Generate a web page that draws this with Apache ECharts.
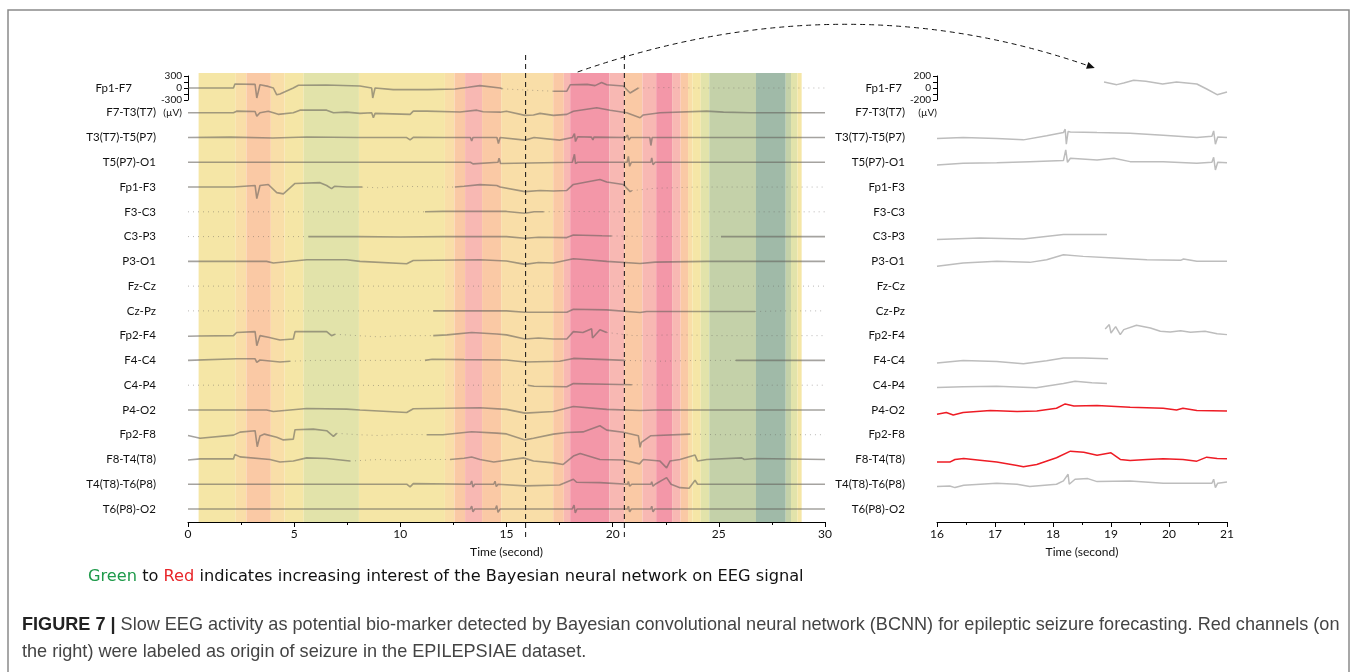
<!DOCTYPE html>
<html>
<head>
<meta charset="utf-8">
<script src="https://cdn.jsdelivr.net/npm/echarts@6/dist/echarts.min.js"></script>
<style>
  html, body { margin: 0; padding: 0; background: #fff; }
  #chart { width: 1357px; height: 672px; }
</style>
</head>
<body>
<div id="chart"></div>
<script>
// channel montage, top to bottom
const channelNames = [
  "Fp1-F7", "F7-T3(T7)", "T3(T7)-T5(P7)", "T5(P7)-O1", "Fp1-F3", "F3-C3",
  "C3-P3", "P3-O1", "Fz-Cz", "Cz-Pz", "Fp2-F4", "F4-C4", "C4-P4", "P4-O2",
  "Fp2-F8", "F8-T4(T8)", "T4(T8)-T6(P8)", "T6(P8)-O2"
];

// BCNN interest windows (seconds) and interest level 0 (green) .. 7 (red)
const bandEdges = [0.5, 2.25, 2.75, 3.9, 4.55, 5.45, 8.05, 12.1, 12.55, 13.05, 13.85, 14.75, 17.2, 17.7,
  18.0, 19.85, 20.55, 21.4, 22.05, 22.8, 23.2, 23.55, 23.75, 24.15, 24.55, 26.75, 28.15, 28.4, 28.7, 28.9];
const bandLevel = [3, 4, 5, 4, 3, 2, 3, 4, 5, 6, 5, 4, 5, 6, 7, 6, 5, 6, 7, 6, 5, 4, 3, 2, 1, 0, 1, 2, 3];
const levelColors = ["#A0BAA8", "#C4D1A9", "#E2E3AA", "#F5E6A6", "#F9DEA8", "#FAC9A5", "#F8B8B3", "#F397A8"];

// window that is zoomed on the right
const zoomWindow = [15.9, 20.55];

// left panel traces: [time s, µV]
const fp1f7 = [[0,0],[2.14,0],[2.21,100],[3.16,90],[3.24,-250],[3.39,80],[3.78,40],[4.02,0],[4.18,-170],[4.33,-150],[4.96,0],[5.2,70],[6.5,75],[8.1,50],[8.65,0],[8.7,-250],[8.81,0],[9.67,-40],[11.3,-40],[12.57,-25],[13.2,20],[13.75,60],[14.7,0],[14.8,-20],[15.5,-40],[16.3,-60],[17.2,-80],[17.84,-80],[18.0,80],[18.8,90],[19.17,60],[19.48,140],[19.72,80],[20.5,50],[20.82,-125],[21.21,0],[22.5,10],[24,0],[26,0],[28,0],[30,0]];
const f7t3 = [[0,0],[2.14,0],[2.29,40],[3.16,30],[3.24,-85],[3.39,0],[3.78,40],[4.02,0],[4.25,-40],[4.96,0],[5.27,65],[6.53,65],[6.85,0],[7.47,15],[8.1,-15],[8.65,0],[8.73,-125],[8.81,-15],[10.46,-40],[10.61,40],[11.24,40],[12.81,20],[13.6,65],[13.9,25],[14.7,15],[15.0,40],[15.87,-65],[16.27,-55],[16.58,-15],[17.21,-65],[17.84,-40],[18.15,40],[19.25,125],[19.88,65],[20.66,0],[21.29,-125],[21.44,-55],[22.23,0],[24.43,40],[25.22,15],[26.5,0],[30,0]];
const t3t5 = [[0,0],[2,10],[4,-10],[5.6,15],[8,0],[10.3,0],[10.46,-60],[10.61,5],[12,0],[13.3,0],[13.36,-85],[13.42,0],[14.55,0],[14.62,-150],[14.7,0],[15.87,-65],[16.3,0],[17.5,-65],[18.1,0],[18.2,100],[18.25,-100],[18.35,20],[19.0,10],[19.07,-60],[19.12,10],[20.6,0],[20.7,60],[20.76,-60],[20.85,0],[21.75,0],[21.8,-200],[21.86,0],[30,0]];
const t5o1 = [[0,0],[10,0],[13.3,0],[13.36,50],[13.42,-40],[13.5,0],[14.6,0],[14.65,100],[14.72,-30],[14.8,0],[18.1,0],[18.2,200],[18.25,-30],[18.35,0],[20.68,0],[20.74,150],[20.8,-100],[20.88,0],[21.8,0],[21.84,110],[21.9,-60],[22,0],[30,0]];
const fp1f3 = [[0,0],[2.14,0],[2.21,40],[3.16,40],[3.24,-290],[3.39,40],[3.78,65],[4.18,-140],[4.49,-170],[5.04,90],[6.22,110],[6.53,40],[6.76,-40],[6.9,20],[7.47,0],[8.2,0],[9,-20],[10,20],[11,10],[12,0],[12.57,0],[13.0,20],[13.75,60],[14.54,40],[14.7,0],[15.87,-115],[16.58,-85],[17.21,-100],[17.84,-85],[18.15,65],[19.4,190],[19.72,125],[20.5,65],[20.82,-115],[20.9,-90],[22,-30],[24,0],[26,0],[30,0]];
const f3c3 = [[0,0],[3,0],[6,0],[9,0],[11.16,0],[12,10],[15.0,10],[15.87,-35],[16.3,0],[16.75,0],[18,10],[20,0],[23,0],[26,0],[30,0]];
const c3p3 = [[0,0],[3,0],[5.67,0],[8,0],[10,-10],[12,0],[15,0],[15.87,-40],[16.5,-15],[17.84,-25],[18.15,40],[19.5,20],[19.95,15],[22,0],[25.1,0],[27,0],[30,0]];
const p3o1 = [[0,0],[3.7,0],[4.02,-40],[5.59,40],[7.47,40],[8.1,0],[10.3,-60],[10.61,20],[13.75,40],[15.0,10],[15.87,-75],[16.5,-30],[17.21,-40],[18.15,65],[18.8,40],[19.72,0],[21.29,-55],[22,-20],[24.43,0],[30,0]];
const fzcz = [[0,0],[4,0],[8,0],[12,0],[16,0],[20,0],[24,0],[30,0]];
const czpz = [[0,0],[5,0],[11.55,0],[15.0,0],[15.87,-35],[17.84,-35],[18.15,40],[19.72,25],[21.29,-40],[21.6,-15],[26.71,-15],[28,0],[30,0]];
const fp2f4 = [[0,-15],[0.5,-10],[2.14,0],[2.29,80],[3.16,100],[3.24,-250],[3.39,0],[3.78,-40],[4.33,-110],[4.96,-85],[5.04,100],[6.53,100],[6.76,0],[6.92,35],[8,0],[9,-30],[10,0],[11.55,0],[12.2,20],[13.36,80],[14.54,40],[15.0,20],[15.87,-85],[16.5,-60],[17.21,-85],[17.84,-85],[18.15,100],[18.6,80],[19.01,170],[19.05,-60],[19.4,150],[19.72,80],[21,0],[23,20],[25,0],[28,0],[30,0]];
const f4c4 = [[0,0],[2.29,40],[3.16,40],[3.24,-50],[3.39,10],[4.33,-40],[4.8,-20],[6,0],[8,0],[10,0],[11.16,0],[11.5,30],[13,20],[15.0,10],[15.87,-40],[17.5,-20],[18.15,50],[19.7,20],[20.58,0],[22.2,-20],[24,0],[25.8,0],[28,0],[30,0]];
const c4p4 = [[0,0],[4,0],[8,0],[10.3,-20],[12,0],[16,0],[16.3,-25],[17.84,-40],[18.15,40],[19.72,25],[20.9,10],[23,0],[26,0],[30,0]];
const p4o2 = [[0,0],[3.7,0],[4.02,-40],[5.59,35],[7.47,20],[8.1,0],[10.3,-65],[10.61,30],[13.75,55],[15.0,15],[15.87,-80],[17.21,-40],[18.15,85],[19.72,15],[21.29,-15],[22,0],[30,0]];
const fp2f8 = [[0,-20],[0.57,-90],[2.14,-10],[2.45,65],[3.16,100],[3.26,-300],[3.39,-30],[3.6,15],[4.18,-65],[4.49,-130],[4.96,-110],[5.04,125],[5.9,140],[6.53,100],[6.85,-40],[7.0,35],[8,0],[9,-20],[10,10],[11.24,0],[12,0],[13.36,75],[14.54,40],[15.0,20],[15.87,-130],[16.27,-90],[17.21,15],[17.84,55],[18.6,70],[19.4,225],[19.72,115],[20.5,60],[21.21,-25],[21.29,-315],[21.35,-190],[21.8,-25],[23.64,15],[25,0],[27,0],[30,0]];
const f8t4 = [[0,-15],[0.57,15],[2.14,15],[2.21,125],[2.45,65],[3.86,0],[4.33,-65],[4.96,-40],[5.59,40],[6.53,25],[7.63,-40],[9,0],[10,-30],[11,0],[12.34,0],[13.0,30],[13.36,60],[13.75,0],[14.4,-65],[15.8,40],[16.27,-40],[17.21,-85],[17.67,-125],[18.15,85],[18.47,150],[19.4,0],[20.5,-15],[21.26,-110],[21.44,0],[22.23,-40],[22.54,-210],[22.7,-40],[23.17,0],[23.88,110],[24.0,-40],[24.43,0],[26.08,40],[26.2,0],[26.71,25],[26.8,0],[30,0]];
const t4t6 = [[0,0],[10.3,0],[10.46,-65],[10.61,15],[13.3,0],[13.36,80],[13.42,-70],[13.5,0],[14.4,0],[14.46,75],[14.52,-60],[14.6,0],[15.87,-40],[17.5,-20],[18.15,125],[18.3,50],[19.4,40],[20.7,0],[20.74,70],[20.8,-50],[20.9,0],[21.8,0],[21.84,60],[21.9,-50],[22,0],[22.54,165],[22.75,0],[23.17,-85],[23.6,-100],[23.88,100],[24.0,0],[30,0]];
const t6o2 = [[0,0],[13.3,0],[13.36,70],[13.42,-70],[13.5,0],[14.48,0],[14.54,85],[14.6,-85],[14.7,0],[18.1,0],[18.18,100],[18.24,-100],[18.32,0],[20.7,0],[20.74,70],[20.8,-70],[20.88,0],[21.8,0],[21.84,70],[21.9,-70],[21.98,0],[30,0]];

const leftTraces = [fp1f7, f7t3, t3t5, t5o1, fp1f3, f3c3, c3p3, p3o1, fzcz, czpz, fp2f4, f4c4, c4p4, p4o2, fp2f8, f8t4, t4t6, t6o2];
// stretches where the network paid little attention (drawn faint)
const leftFaint = [
  [[14.8, 17.2], [21.21, 30]], [], [], [], [[8.2, 12.57], [20.9, 30]], [[0, 11.16], [16.75, 30]],
  [[0, 5.67], [19.95, 25.1]], [], [[0, 30]], [[0, 11.55], [26.71, 30]], [[6.92, 11.55], [19.72, 30]],
  [[4.8, 11.16], [20.58, 25.8]], [[0, 16], [20.9, 30]], [], [[7.0, 11.24], [23.64, 30]], [[7.63, 12.34]], [], []
];

// right panel (16-21 s) traces: [time s, µV]
const rFp1F7 = [[18.88,100],[19.1,56],[19.22,83],[19.39,128],[19.6,111],[19.89,67],[20.13,100],[20.48,67],[20.65,-17],[20.83,-111],[21,-67]];
const rT3T5 = [[16,-17],[16.45,0],[17.03,-17],[17.49,-39],[17.89,28],[18.18,83],[18.21,139],[18.23,-111],[18.26,100],[18.3,94],[18.76,83],[19.33,72],[19.9,39],[20.48,0],[20.74,20],[20.77,111],[20.8,-111],[20.84,10],[21,0]];
const rT5O1 = [[16,-44],[16.45,-17],[17.03,-6],[17.6,11],[18.18,28],[18.22,206],[18.25,0],[18.3,67],[18.76,39],[19.05,67],[19.33,11],[19.9,11],[20.48,-17],[20.74,0],[20.77,83],[20.8,-128],[20.84,0],[21,-6]];
const rC3P3 = [[16,-50],[16.74,-22],[17.49,-39],[18.18,33],[18.93,33]];
const rP3O1 = [[16,-83],[16.45,-28],[17.03,0],[17.6,-17],[17.89,28],[18.18,111],[18.52,83],[19.05,56],[19.62,28],[20.2,17],[20.25,39],[20.48,0],[21,0]];
const rFp2F4 = [[18.9,111],[18.97,184],[19.0,44],[19.08,150],[19.16,17],[19.22,100],[19.44,172],[19.68,128],[19.85,72],[20.02,61],[20.2,83],[20.37,56],[20.62,72],[20.83,33],[21,17]];
const rF4C4 = [[16,-44],[16.45,0],[17.03,-17],[17.49,-56],[17.89,-6],[18.18,39],[18.52,39],[18.95,28]];
const rC4P4 = [[16,-39],[16.45,-28],[17.03,-17],[17.71,-44],[18.18,28],[18.38,67],[18.67,39],[18.93,28]];
const rP4O2 = [[16,-72],[16.16,-44],[16.28,-83],[16.45,-44],[16.92,-11],[17.38,-28],[17.72,-17],[18.06,28],[18.21,100],[18.36,67],[18.76,72],[19.33,44],[19.9,28],[20.13,0],[20.24,28],[20.48,-11],[21,-17]];
const rF8T4 = [[16,-44],[16.22,-44],[16.31,0],[16.46,17],[16.74,-11],[17.03,-44],[17.38,-100],[17.49,-122],[17.72,-83],[18.06,28],[18.3,139],[18.53,122],[18.76,72],[19.0,111],[19.16,0],[19.33,-17],[19.62,0],[19.9,11],[20.24,0],[20.48,-28],[20.65,39],[20.83,17],[21,11]];
const rT4T6 = [[16,-39],[16.22,-28],[16.31,-56],[16.46,-17],[17.03,17],[17.38,0],[17.6,-39],[18.06,0],[18.18,56],[18.26,167],[18.28,0],[18.38,83],[18.6,94],[18.76,44],[19.33,56],[19.9,17],[20.48,17],[20.74,17],[20.77,83],[20.8,-56],[20.84,17],[21,39]];

const rightChannels = ["Fp1-F7", "T3(T7)-T5(P7)", "T5(P7)-O1", "C3-P3", "P3-O1", "Fp2-F4", "F4-C4", "C4-P4", "P4-O2", "F8-T4(T8)", "T4(T8)-T6(P8)"];
const rightTraces = [rFp1F7, rT3T5, rT5O1, rC3P3, rP3O1, rFp2F4, rF4C4, rC4P4, rP4O2, rF8T4, rT4T6];
const seizureOrigin = ["P4-O2", "F8-T4(T8)"];

// layout
const TOP = 73, BOTTOM = 150, ROW = 24.765, FIRST = 15, LAST = 13;
const leftSpacing = 620, rightSpacing = 413;
const FONT = "Lato";

function yRange(spacing) {
  const k = spacing / ROW;
  return { max: FIRST * k, min: -(17 * spacing + LAST * k) };
}
const lRange = yRange(leftSpacing), rRange = yRange(rightSpacing);

function segments(points, faint, offset, xi, solidStyle, faintStyle) {
  const edges = [points[0][0]];
  faint.forEach(r => edges.push(r[0], r[1]));
  edges.push(points[points.length - 1][0]);
  const out = [];
  for (let k = 0; k < edges.length - 1; k++) {
    const lo = edges[k], hi = edges[k + 1];
    if (hi <= lo) continue;
    const seg = points.filter(p => p[0] >= lo && p[0] <= hi).map(p => [p[0], p[1] + offset]);
    out.push({
      type: "line", xAxisIndex: xi, yAxisIndex: xi, data: seg,
      symbol: "none", silent: true, animation: false, z: 3,
      lineStyle: k % 2 === 1 ? faintStyle : solidStyle
    });
  }
  return out;
}

const series = [];
// attention bands
series.push({
  type: "line", xAxisIndex: 0, yAxisIndex: 0, data: [], silent: true, z: 1,
  markArea: {
    silent: true,
    data: bandLevel.map((lv, i) => [
      { xAxis: bandEdges[i], itemStyle: { color: levelColors[lv] } },
      { xAxis: bandEdges[i + 1] }
    ])
  }
});
const solidGray = { color: "rgba(100,96,92,0.58)", width: 1.6 };
const faintGray = { color: "rgba(100,96,92,0.45)", width: 1, type: [1, 4] };
leftTraces.forEach((tr, i) => {
  series.push(...segments(tr, leftFaint[i], -i * leftSpacing, 0, solidGray, faintGray));
});
rightTraces.forEach((tr, i) => {
  const idx = channelNames.indexOf(rightChannels[i]);
  const red = seizureOrigin.includes(rightChannels[i]);
  series.push(...segments(tr, [], -idx * rightSpacing, 1,
    { color: red ? "#EE1C25" : "#BDBDBD", width: 1.5 }, {}));
});

const timeAxis = (gi, min, max, interval) => ({
  gridIndex: gi, type: "value", min, max, interval,
  axisLine: { onZero: false, lineStyle: { color: "#000", width: 1 } },
  axisTick: { length: 5, lineStyle: { color: "#000" } },
  minorTick: { show: true, splitNumber: 2, length: 3, lineStyle: { color: "#000" } },
  splitLine: { show: false },
  axisLabel: { fontSize: 12, color: "#111", margin: 6, fontFamily: FONT },
  name: "Time (second)", nameLocation: "middle", nameGap: 24,
  nameTextStyle: { fontSize: 12, color: "#111", fontFamily: FONT }
});
const hiddenX = gi => ({ gridIndex: gi, type: "value", show: false, min: 0, max: 1, axisLine: { onZero: false } });
const scaleAxis = (gi, lim, rightPad) => ({
  gridIndex: gi, type: "value", min: -lim, max: lim, interval: lim,
  axisLine: { show: true, onZero: false, lineStyle: { color: "#000" } },
  axisTick: { show: true, length: 4, lineStyle: { color: "#000" } },
  minorTick: { show: true, splitNumber: 2, length: 4, lineStyle: { color: "#000" } },
  splitLine: { show: false },
  axisLabel: { fontSize: 10, color: "#111", margin: 6, fontFamily: FONT },
  name: "(µV)", nameLocation: "start", nameGap: 8,
  nameTextStyle: { fontSize: 10, color: "#111", align: "right", padding: [0, rightPad, 0, 0], fontFamily: FONT }
});
const labelAxis = (gi, firstPad) => ({
  gridIndex: gi, type: "category", data: channelNames, inverse: true,
  axisLine: { show: false }, axisTick: { show: false },
  axisLabel: {
    margin: 32, fontSize: 11.5, color: "#111", fontFamily: FONT,
    formatter: v => (v === channelNames[0] ? "{a|" + v + "}" : v),
    rich: { a: { fontSize: 11.5, color: "#111", fontFamily: FONT, padding: [0, firstPad, 0, 0] } }
  }
});

const labelTop = TOP + FIRST - ROW / 2;
const labelBottom = 672 - (labelTop + 18 * ROW);

const option = {
  animation: false,
  textStyle: { fontFamily: FONT },
  grid: [
    { left: 188, right: 532, top: TOP, bottom: BOTTOM },
    { left: 937, right: 130, top: TOP, bottom: BOTTOM },
    { left: 188, width: 1, top: 76, height: 24 },
    { left: 937, width: 1, top: 76, height: 24 },
    { left: 188, right: 532, top: labelTop, bottom: labelBottom },
    { left: 937, right: 130, top: labelTop, bottom: labelBottom }
  ],
  xAxis: [timeAxis(0, 0, 30, 5), timeAxis(1, 16, 21, 1), hiddenX(2), hiddenX(3), hiddenX(4), hiddenX(5)],
  yAxis: [
    { gridIndex: 0, type: "value", show: false, min: lRange.min, max: lRange.max },
    { gridIndex: 1, type: "value", show: false, min: rRange.min, max: rRange.max },
    scaleAxis(2, 300, 6),
    scaleAxis(3, 200, 0),
    labelAxis(4, 24),
    labelAxis(5, 3)
  ],
  series
};

const chart = echarts.init(document.getElementById("chart"), null, { renderer: "canvas" });
chart.setOption(option);

// annotations placed from the axes
const xa = chart.convertToPixel({ xAxisIndex: 0 }, zoomWindow[0]);
const xb = chart.convertToPixel({ xAxisIndex: 0 }, zoomWindow[1]);
const arrowStart = [chart.convertToPixel({ xAxisIndex: 0 }, 18.35), TOP - 1];
const arrowEnd = [chart.convertToPixel({ xAxisIndex: 1 }, 18.72), 68];
const cp = [840, -20];
const ang = Math.atan2(arrowEnd[1] - cp[1], arrowEnd[0] - cp[0]);
const ah = 8, aw = 3.5;
const back = [arrowEnd[0] - ah * Math.cos(ang), arrowEnd[1] - ah * Math.sin(ang)];
const dash = { stroke: "#111", lineWidth: 1, lineDash: [5, 4] };
const CAP = "Liberation Sans";
const NOTE = 16.2;

chart.setOption({
  graphic: [
    { type: "rect", shape: { x: 8, y: 10, width: 1341, height: 700 }, style: { fill: "none", stroke: "#8a8a8a", lineWidth: 1.5 }, silent: true },
    { type: "line", shape: { x1: xa, y1: 55, x2: xa, y2: 541 }, style: dash, z: 10 },
    { type: "line", shape: { x1: xb, y1: 55, x2: xb, y2: 541 }, style: dash, z: 10 },
    { type: "bezierCurve", shape: { x1: arrowStart[0], y1: arrowStart[1], x2: back[0], y2: back[1], cpx1: cp[0], cpy1: cp[1] },
      style: { stroke: "#111", lineWidth: 1, lineDash: [5, 4], fill: "none" }, z: 10 },
    { type: "polygon", shape: { points: [
        arrowEnd,
        [back[0] + aw * Math.sin(ang), back[1] - aw * Math.cos(ang)],
        [back[0] - aw * Math.sin(ang), back[1] + aw * Math.cos(ang)]
      ] }, style: { fill: "#111" }, z: 10 },
    { type: "text", x: 88, y: 577, style: {
        text: "{g|Green} to {r|Red} indicates increasing interest of the Bayesian neural network on EEG signal",
        fontSize: NOTE, fontFamily: "DejaVu Sans", fill: "#111", verticalAlign: "middle",
        rich: {
          g: { fontSize: NOTE, fontFamily: "DejaVu Sans", fill: "#1E9A4A" },
          r: { fontSize: NOTE, fontFamily: "DejaVu Sans", fill: "#E8262A" }
        }
      } },
    { type: "text", x: 22, y: 625, style: {
        text: "{b|FIGURE 7 |} Slow EEG activity as potential bio-marker detected by Bayesian convolutional neural network (BCNN) for epileptic seizure forecasting. Red channels (on",
        fontSize: 18.1, fontFamily: CAP, fill: "#444", verticalAlign: "middle",
        rich: { b: { fontSize: 18.1, fontWeight: "bold", fontFamily: CAP, fill: "#222" } }
      } },
    { type: "text", x: 22, y: 652, style: {
        text: "the right) were labeled as origin of seizure in the EPILEPSIAE dataset.",
        fontSize: 18.1, fontFamily: CAP, fill: "#444", verticalAlign: "middle"
      } }
  ]
});
</script>
</body>
</html>
